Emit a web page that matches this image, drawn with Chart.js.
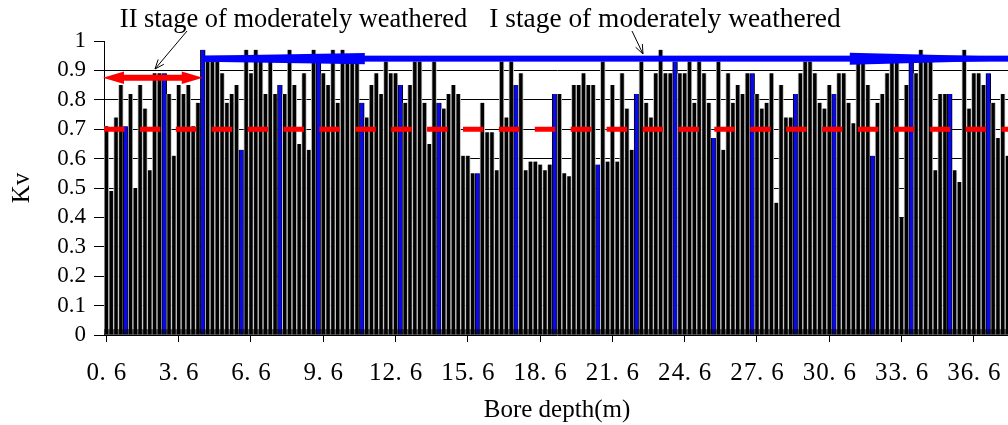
<!DOCTYPE html>
<html><head><meta charset="utf-8">
<script src="https://cdn.jsdelivr.net/npm/chart.js@4.4.0/dist/chart.umd.min.js"></script>
<style>
html,body{margin:0;padding:0;background:#fff;overflow:hidden;width:1008px;height:425px}
#wrap{position:relative;width:1010px;height:425px}
</style></head><body>
<div id="wrap"><canvas id="c"></canvas></div>
<script>
// ---- data ----
const kv = [
0.71,0.49,0.74,0.85,0.71,0.82,0.50,0.85,0.77,0.56,
0.89,0.89,0.89,0.82,0.61,0.85,0.82,0.85,0.71,0.79,
0.97,0.93,0.93,0.93,0.89,0.79,0.82,0.85,0.63,0.97,
0.89,0.97,0.93,0.82,0.93,0.82,0.85,0.82,0.97,0.85,
0.65,0.89,0.63,0.97,0.93,0.89,0.85,0.97,0.79,0.97,
0.93,0.93,0.93,0.79,0.74,0.85,0.89,0.82,0.93,0.89,
0.89,0.85,0.79,0.85,0.93,0.93,0.79,0.65,0.93,0.79,
0.77,0.82,0.85,0.82,0.61,0.61,0.55,0.55,0.79,0.69,
0.69,0.56,0.93,0.74,0.93,0.85,0.89,0.56,0.59,0.59,
0.58,0.56,0.58,0.82,0.82,0.55,0.54,0.85,0.85,0.89,
0.85,0.85,0.58,0.93,0.59,0.85,0.59,0.89,0.77,0.63,
0.82,0.93,0.79,0.74,0.89,0.97,0.89,0.89,0.93,0.89,
0.89,0.93,0.79,0.93,0.89,0.79,0.67,0.93,0.63,0.89,
0.79,0.85,0.82,0.89,0.89,0.82,0.77,0.79,0.89,0.45,
0.85,0.74,0.74,0.82,0.89,0.93,0.93,0.89,0.79,0.77,
0.85,0.82,0.89,0.89,0.79,0.72,0.93,0.93,0.85,0.61,
0.79,0.82,0.89,0.93,0.93,0.40,0.85,0.93,0.89,0.97,
0.93,0.93,0.56,0.82,0.82,0.82,0.56,0.52,0.97,0.77,
0.89,0.89,0.85,0.89,0.79,0.67,0.82,0.61
];
const blueIdx = [4,12,20,28,36,44,53,61,69,77,85,93,102,110,118,126,134,143,151,159,167,175,183];
const depthStart = 0.6, depthStep = 0.2;
const depths = kv.map((_, i) => (depthStart + depthStep * i).toFixed(1));
const tickLabels = ["0.6","3.6","6.6","9.6","12.6","15.6","18.6","21.6","24.6","27.6","30.6","33.6","36.6"];
const tickEvery = 15;
const threshold = 0.7;
const stageII = { fromIdx: 0, toIdx: 20, level: 0.875, text: "II stage of moderately weathered" };
const stageI  = { fromIdx: 20, level: 0.94, text: "I stage of moderately weathered" };
const yTitle = "Kv", xTitle = "Bore depth(m)";

// ---- styles ----
const blueSet = new Set(blueIdx);
const SERIF = '"Liberation Serif", "Times New Roman", serif';
const fmt = v => { const r = Math.round(v * 10) / 10; return r === 0 ? '0' : (r === 1 ? '1' : r.toFixed(1)); };

function arrowHead(ctx, x0, y0, x1, y1, len, ang) {
  const a = Math.atan2(y1 - y0, x1 - x0);
  ctx.beginPath();
  ctx.moveTo(x1 - len * Math.cos(a - ang), y1 - len * Math.sin(a - ang));
  ctx.lineTo(x1, y1);
  ctx.lineTo(x1 - len * Math.cos(a + ang), y1 - len * Math.sin(a + ang));
  ctx.stroke();
}

const overlay = {
  id: 'overlay',
  afterDatasetsDraw(chart) {
    const { ctx, chartArea: ca, scales: { x, y } } = chart;
    ctx.save();
    // dark band at base of bars
    const yb0 = y.getPixelForValue(0), yb1 = y.getPixelForValue(0.02);
    ctx.fillStyle = 'rgba(0,0,0,0.55)';
    ctx.fillRect(ca.left, yb1, ca.right - ca.left, yb0 - yb1);
    // red dashed threshold line
    const yt = y.getPixelForValue(threshold);
    ctx.strokeStyle = '#ff0000'; ctx.lineWidth = 5; ctx.lineCap = 'butt';
    ctx.setLineDash([20.5, 15.4]);
    ctx.beginPath(); ctx.moveTo(ca.left, yt); ctx.lineTo(ca.right, yt); ctx.stroke();
    ctx.setLineDash([]);
    // red double arrow (stage II)
    let yc = y.getPixelForValue(stageII.level);
    const xL = ca.left - 1, xR = x.getPixelForValue(stageII.toIdx);
    const hl = 21, hh = 6.2, sh = 3;
    ctx.fillStyle = '#ff0000';
    ctx.beginPath();
    ctx.moveTo(xL, yc); ctx.lineTo(xL + hl, yc - hh); ctx.lineTo(xL + hl, yc - sh);
    ctx.lineTo(xR - hl, yc - sh); ctx.lineTo(xR - hl, yc - hh); ctx.lineTo(xR, yc);
    ctx.lineTo(xR - hl, yc + hh); ctx.lineTo(xR - hl, yc + sh); ctx.lineTo(xL + hl, yc + sh);
    ctx.lineTo(xL + hl, yc + hh); ctx.closePath(); ctx.fill();
    // blue arrow (stage I)
    yc = y.getPixelForValue(stageI.level);
    const xs = x.getPixelForValue(stageI.fromIdx);
    ctx.fillStyle = '#0000ff';
    ctx.fillRect(xs, yc - 3, ca.right + 5 - xs, 6);
    const xh1 = xs + 162;
    ctx.beginPath();
    ctx.moveTo(xs, yc - 3); ctx.lineTo(xh1, yc - 5.6); ctx.lineTo(xh1, yc + 5.6); ctx.lineTo(xs, yc + 3);
    ctx.closePath(); ctx.fill();
    const xh2 = xs + 647;
    ctx.beginPath();
    ctx.moveTo(xh2, yc - 6); ctx.lineTo(xh2 + 230, yc); ctx.lineTo(xh2, yc + 6);
    ctx.closePath(); ctx.fill();
    ctx.restore();
  },
  afterDraw(chart) {
    const { ctx, scales: { x } } = chart;
    ctx.save();
    // x tick labels with wide (SimSun-like) character cells
    ctx.fillStyle = '#000';
    ctx.font = '25px ' + SERIF;
    ctx.textBaseline = 'alphabetic';
    const cell = 13.6, base = x.top + 45;
    x.ticks.forEach((t, i) => {
      const lab = tickLabels[i]; if (!lab) return;
      const px = x.getPixelForTick(i);
      const start = px - lab.length * cell / 2;
      [...lab].forEach((ch, j) => {
        const cx = start + j * cell;
        if (ch === '.') { ctx.textAlign = 'left'; ctx.fillText(ch, cx, base); }
        else { ctx.textAlign = 'center'; ctx.fillText(ch, cx + cell / 2, base); }
      });
    });
    // stage annotations
    ctx.textAlign = 'center';
    ctx.font = '26.4px ' + SERIF;
    ctx.fillText(stageII.text, 293.5, 27);
    ctx.font = '27.4px ' + SERIF;
    ctx.fillText(stageI.text, 665, 27);
    ctx.strokeStyle = '#000'; ctx.lineWidth = 1;
    ctx.beginPath(); ctx.moveTo(187, 31); ctx.lineTo(155, 69); ctx.stroke();
    arrowHead(ctx, 187, 31, 155, 69, 10, 0.38);
    ctx.beginPath(); ctx.moveTo(632, 31); ctx.lineTo(643, 54); ctx.stroke();
    arrowHead(ctx, 632, 31, 643, 54, 10, 0.38);
    ctx.restore();
  }
};

new Chart(document.getElementById('c'), {
  type: 'bar',
  data: {
    labels: depths,
    datasets: [{
      label: 'Kv',
      data: kv,
      backgroundColor: c => blueSet.has(c.dataIndex) ? '#0808e8' : '#000000',
      borderColor: c => blueSet.has(c.dataIndex) ? '#000000' : '#c4c4c4',
      borderWidth: { left: 1, right: 1, top: 0, bottom: 0 },
      borderSkipped: false,
      barPercentage: 1,
      categoryPercentage: 1
    }]
  },
  options: {
    responsive: true,
    maintainAspectRatio: false,
    animation: false,
    devicePixelRatio: 1,
    layout: { padding: { top: 41, left: 0, right: 0, bottom: 0 } },
    plugins: { legend: { display: false }, tooltip: { enabled: false } },
    scales: {
      x: {
        type: 'category',
        offset: true,
        grid: { display: true, drawOnChartArea: false, drawTicks: true, tickLength: 7, offset: false, color: '#000', tickColor: '#000' },
        border: { display: true, color: '#000', width: 1 },
        ticks: { display: false, autoSkip: false, maxRotation: 0 },
        afterBuildTicks: s => { s.ticks = s.ticks.filter(t => t.value % tickEvery === 0); },
        afterFit: s => { s.height = 90; },
        title: { display: true, text: xTitle, color: '#000', font: { family: SERIF, size: 25 }, padding: { top: 0, bottom: 0 } }
      },
      y: {
        min: 0, max: 1,
        ticks: { stepSize: 0.1, autoSkip: false, callback: v => fmt(v), color: '#000', font: { family: SERIF, size: 23 }, padding: 8 },
        grid: {
          color: c => (c.tick && c.tick.value > 0.05 && c.tick.value < 0.95) ? '#000' : 'rgba(0,0,0,0)',
          tickColor: '#000', tickLength: 10, lineWidth: 1
        },
        border: { display: true, color: '#000', width: 1 },
        afterFit: s => { s.width = 104; },
        title: { display: true, text: yTitle, color: '#000', font: { family: SERIF, size: 25 }, padding: { top: 7, bottom: 0 } }
      }
    }
  },
  plugins: [overlay]
});
</script>
</body></html>
